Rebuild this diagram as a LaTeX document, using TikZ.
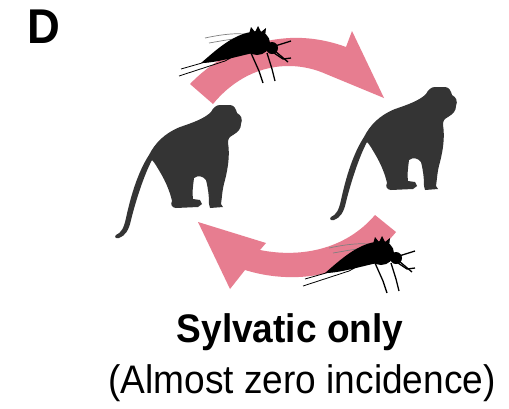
\documentclass[tikz,border=0pt]{standalone}
\usepackage{fontspec}
\setmainfont{Liberation Sans}[FakeStretch=0.93]
\usepackage{tikz}

\definecolor{cyclepink}{RGB}{231,125,144}
\definecolor{monkeygrey}{RGB}{52,52,52}

% monkey silhouette, sitting on all fours, facing right
\newcommand{\monkeyshape}{%
  \fill[monkey] (220,105) -- (230,105) .. controls (234,105) and (236,109) .. (237,113)
    .. controls (241,115) and (243,119) .. (241,124)
    .. controls (241,129) and (238,132) .. (233,135)
    .. controls (229,137) and (228,139) .. (228,143)
    .. controls (230,155) and (228,168) .. (225,180)
    .. controls (222,190) and (222,198) .. (221,204)
    -- (223,207) -- (210,208) -- (209,204)
    .. controls (209,195) and (208,188) .. (206,180)
    .. controls (203,176) and (198,175) .. (194,178)
    .. controls (193,186) and (192,193) .. (193,199)
    -- (200,200) -- (202,204) -- (198,207)
    -- (176,208) .. controls (172,208) and (170,204) .. (172,201)
    .. controls (170,192) and (166,182) .. (160,172)
    .. controls (157,167) and (155,163) .. (152,160)
    .. controls (144,175) and (136,200) .. (131,220)
    .. controls (129,230) and (125,236) .. (119,238)
    .. controls (116,239) and (114,237) .. (116,235)
    .. controls (121,233) and (124,228) .. (126,218)
    .. controls (131,195) and (138,172) .. (149,155)
    .. controls (155,143) and (165,133) .. (180,127)
    .. controls (195,122) and (205,118) .. (211,112)
    .. controls (213,108) and (216,105) .. (220,105) -- cycle;
}

% mosquito, thorax at the origin, head to the right
\newcommand{\mosquitoshape}{%
  % wings
  \draw[mosqwing] (-6,-8) .. controls (-20,-11) and (-38,-8) .. (-52,-5);
  \draw[mosqwing] (-8,-5) .. controls (-22,-5) and (-36,-2) .. (-48,0);
  % hind legs trailing behind
  \draw[mosqhair] (-10,6) -- (-32,18) -- (-78,33);
  \draw[mosqhair] (-12,4) -- (-34,14) -- (-76,26);
  % abdomen
  \fill (-6,-11) .. controls (-25,-8) and (-42,8) .. (-56,20)
    .. controls (-42,20) and (-22,14) .. (-4,10) -- cycle;
  % thorax and its hairs
  \fill (0,0) ellipse [x radius=13, y radius=12];
  \fill (-8,-9) -- (-6,-16) -- (-2,-11) -- (1,-17) -- (4,-11) -- (9,-15) -- (8,-6) -- cycle;
  % head, proboscis, palps
  \fill (15,5) circle [radius=6];
  \draw[mosqleg] (18,3) -- (34,-2);
  \draw[mosqleg] (18,8) -- (31,19);
  % middle and front legs
  \draw[mosqleg] (-6,10) -- (2,28) -- (6,40);
  \draw[mosqleg] (10,10) -- (15,26) -- (18,38);
  \draw[mosqleg] (14,8) -- (26,16) -- (34,15);
}

\begin{document}
\begin{tikzpicture}[x=1bp, y=-1bp,
    band/.style={fill=cyclepink},
    monkey/.style={fill=monkeygrey},
    mosqleg/.style={draw=black, line width=1.3pt, line join=round},
    mosqhair/.style={draw=black, line width=0.8pt, line join=round},
    mosqwing/.style={draw=black!50, line width=0.7pt},
    panel/.style={font=\fontsize{49}{50}\selectfont\bfseries, inner sep=0pt, anchor=base west},
    caption/.style={inner sep=0pt, anchor=base},
]

\useasboundingbox[fill=white] (0,0) rectangle (509,408);

% transmission arrows
\fill[band] (190,84) .. controls (215,58) and (250,40) .. (290,38)
  .. controls (310,37) and (330,41) .. (346,47) -- (352,31) -- (384,98)
  -- (326,74) .. controls (290,58) and (245,65) .. (213,104) -- cycle;
\fill[band] (198,222) -- (266,243) -- (260,250)
  .. controls (300,258) and (345,250) .. (375,215) -- (396,232)
  .. controls (370,265) and (310,290) .. (245,270) -- (230,289) -- cycle;

% the two monkeys
\monkeyshape
\begin{scope}[shift={(215,-18)}]
  \monkeyshape
\end{scope}

% mosquitoes riding the arrows
\begin{scope}[shift={(257,43)}]
  \mosquitoshape
\end{scope}
\begin{scope}[shift={(381,253)}]
  \mosquitoshape
\end{scope}

\node[panel] (panel) at (27,43) {D};
\node[caption, font=\fontsize{40}{44}\selectfont\bfseries] (title) at (290,342) {Sylvatic only};
\node[caption, font=\fontsize{40}{44}\selectfont] (subtitle) at (302,393) {(Almost zero incidence)};

\end{tikzpicture}
\end{document}
